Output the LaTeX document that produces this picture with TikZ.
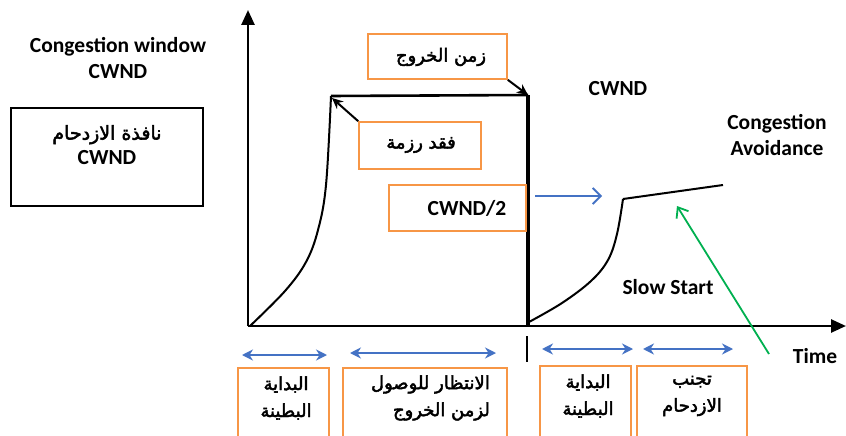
\documentclass[tikz,border=0pt]{standalone}
\usepackage{fontspec}
\setmainfont{Carlito}
\newfontfamily\arabicfont[Script=Arabic,FakeBold=2.5]{DejaVu Sans}
\TeXXeTstate=1
\usetikzlibrary{arrows.meta}
\definecolor{orng}{RGB}{247,150,70}
\definecolor{blu}{RGB}{68,114,196}
\definecolor{grn}{RGB}{0,176,80}
\newcommand{\ar}[1]{\beginR #1\endR}
\begin{document}
\begin{tikzpicture}[x=1pt,y=-1pt,
  en/.style={font=\fontsize{21.5}{26}\selectfont\bfseries, align=center, inner sep=0pt},
  arb/.style={font=\fontsize{18}{27}\selectfont\arabicfont, align=center, inner sep=0pt},
  obox/.style={draw=orng, line width=1.6pt},
  axis/.style={line width=2.6pt, -{Triangle[length=15pt,width=13pt]}},
  curve/.style={line width=2pt, line join=round},
  barr/.style={draw=blu, line width=1.8pt, {Stealth[length=11pt,width=11pt]}-{Stealth[length=11pt,width=11pt]}},
  karr/.style={line width=2pt, -{Stealth[length=11pt,width=10pt]}}]
\useasboundingbox (0,0) rectangle (846,436);
\fill[white] (0,0) rectangle (846,436);

% axes
\coordinate (o) at (248,326);
\coordinate (ytop) at (248,10);
\coordinate (xend) at (846,326);
\draw[axis] (o) -- (ytop);
\draw[axis] (o) -- (xend);

% titles
\node[en] (cw) at (118,58) {Congestion window\\CWND};
\node[draw, line width=1.8pt, minimum width=192pt, minimum height=98pt] (lbox) at (107,157) {};
\node[font=\fontsize{21.5}{25}\selectfont, align=center, inner sep=0pt] (lboxt) at (107,145)
  {{\fontsize{19}{25}\selectfont\arabicfont\ar{نافذة الازدحام}}\\\bfseries CWND};

% first slow start curve
\coordinate (s0) at (250,326);
\coordinate (peak) at (331,96);
\coordinate (corner) at (528,95);
\coordinate (drop) at (528,326);
\draw[curve] plot[smooth, tension=0.6] coordinates {(250,326) (285,291) (306,262) (318,230) (326,185) (331,96)};
\draw[line width=2.6pt] (peak) -- (corner);
\draw[line width=3.2pt] (corner) -- (drop);

% second curve
\coordinate (k) at (623,199);
\coordinate (caend) at (723,185);
\draw[curve] plot[smooth, tension=0.6] coordinates {(529,322) (562,303) (591,281) (608,260) (617,234) (623,199)};
\draw[curve] (k) -- (caend);

% orange boxes
\node[obox, minimum width=139pt, minimum height=45pt, inner sep=0pt] (exit) at (437.5,56.5) {};
\node[arb] (exitt) at (441,57) {\ar{زمن الخروج}};
\draw[karr] (exit.south east) -- (corner);

\node[obox, minimum width=122pt, minimum height=47pt, inner sep=0pt] (loss) at (420,145.5) {};
\node[arb] (losst) at (421,145) {\ar{فقد رزمة}};
\draw[karr] (loss.north west) -- ([xshift=1pt,yshift=-2pt]peak);

\node[obox, minimum width=137pt, minimum height=46pt, inner sep=0pt] (half) at (457.5,208) {};
\node[en] (halft) at (467,208) {CWND/2};

\coordinate (ba0) at (535,196);
\coordinate (ba1) at (602,196);
\draw[draw=blu, line width=1.8pt, -{Straight Barb[length=8pt,width=16pt]}] (ba0) -- (ba1);

% labels right
\node[en] (cwnd) at (618,89) {CWND};
\node[en] (ca) at (777,135) {Congestion\\Avoidance};
\node[en] (ss) at (668,287) {Slow Start};
\node[en] (time) at (815,356) {Time};

% green arrow
\coordinate (g0) at (769,354);
\coordinate (g1) at (677,206);
\draw[draw=grn, line width=1.8pt, -{Straight Barb[length=9pt,width=14pt]}] (g0) -- (g1);

% tick
\coordinate (t0) at (527,336);
\coordinate (t1) at (527,362);
\draw[line width=2.6pt] (t0) -- (t1);

% blue double arrows
\coordinate (a1) at (242,355); \coordinate (b1) at (327,355);
\coordinate (a2) at (350,353); \coordinate (b2) at (496,353);
\coordinate (a3) at (542,349); \coordinate (b3) at (633,349);
\coordinate (a4) at (643,349); \coordinate (b4) at (733,349);
\draw[barr] (a1) -- (b1);
\draw[barr] (a2) -- (b2);
\draw[barr] (a3) -- (b3);
\draw[barr] (a4) -- (b4);

% bottom boxes (open at the bottom edge of the picture)
\draw[draw=orng, line width=1.6pt] (238,437) -- (238,368) -- (329,368) -- (329,437);
\draw[draw=orng, line width=1.6pt] (343,437) -- (343,368) -- (507,368) -- (507,437);
\draw[draw=orng, line width=1.6pt] (540,437) -- (540,366) -- (631,366) -- (631,437);
\draw[draw=orng, line width=1.6pt] (637,437) -- (637,366) -- (747,366) -- (747,437);
\node[arb] (bt1) at (286,398) {\ar{البداية}\\\ar{البطينة}};
\node[arb, align=right, anchor=east] (bt2) at (490,398) {\ar{الانتظار للوصول}\\\ar{لزمن الخروج}};
\node[arb] (bt3) at (588,396) {\ar{البداية}\\\ar{البطينة}};
\node[arb] (bt4) at (692,396) {\ar{تجنب}\\\ar{الازدحام}};
\end{tikzpicture}
\end{document}
